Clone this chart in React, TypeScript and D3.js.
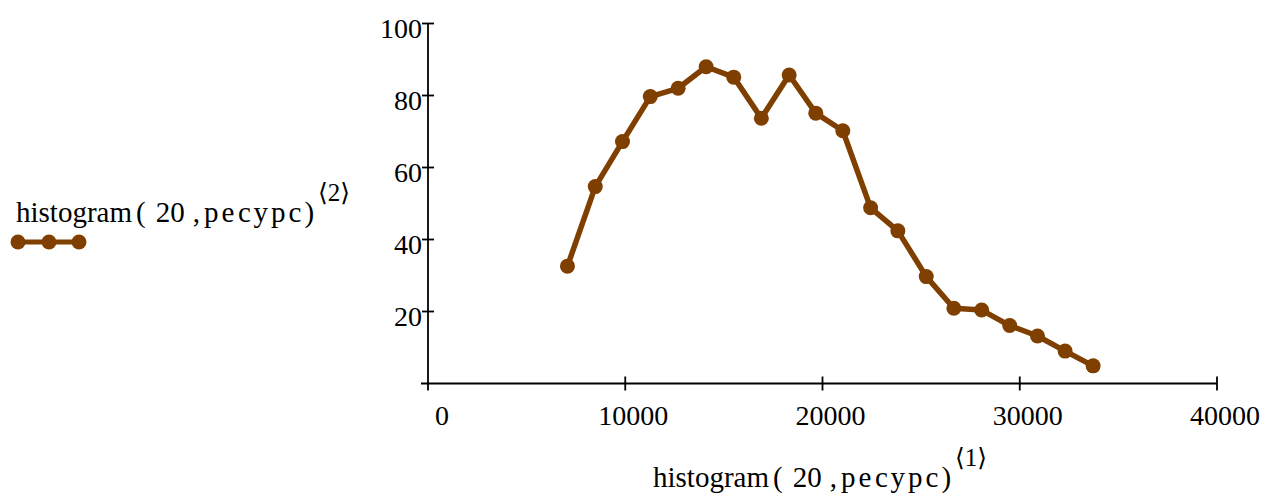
import React from 'react';
import * as d3 from 'd3';

// histogram(20, ресурс): bin centres and counts
const binCentres = [7070, 8480, 9860, 11270, 12680, 14100, 15500, 16900, 18310, 19660, 21030, 22440, 23820, 25260, 26660, 28070, 29490, 30900, 32300, 33720];
const counts = [32.6, 54.7, 67.2, 79.7, 82.0, 88.0, 85.1, 73.7, 85.7, 75.1, 70.2, 48.8, 42.4, 29.7, 20.9, 20.4, 16.1, 13.2, 9.0, 4.9];

const xTicks = [0, 10000, 20000, 30000, 40000];
const yTicks = [20, 40, 60, 80, 100];

const BROWN = '#7f3f00';
const FONT = 'Liberation Serif, Times New Roman, DejaVu Serif, serif';

const W = 1269;
const H = 497;

// Mathcad style label: histogram ( 20 , ресурс )^<n>
const MathLabel = ({ x, y, sup }: { x: number; y: number; sup: string }) => (
	<text x={x} y={y} style={{ fontFamily: FONT, fontSize: 29 }} fill="#000">
		<tspan>histogram</tspan>
		<tspan dx={4}>(</tspan>
		<tspan dx={10}>20</tspan>
		<tspan dx={8}>,</tspan>
		<tspan dx={4} style={{ letterSpacing: 3 }}>ресурс</tspan>
		<tspan>)</tspan>
		<tspan dx={4} dy={-21} style={{ fontSize: 25 }}>{'\u27E8' + sup + '\u27E9'}</tspan>
	</text>
);

export default function App() {
	const x = d3.scaleLinear().domain([0, 40000]).range([428, 1217]);
	const y = d3.scaleLinear().domain([0, 100]).range([383.5, 23.5]);

	const pts = binCentres.map((c, i) => [x(c), y(counts[i])] as [number, number]);
	const line = d3.line()(pts) || '';

	return (
		<svg width={W} height={H} style={{ position: 'absolute', left: 0, top: 0, background: '#fff' }}>
			{/* axes */}
			<g stroke="#000" strokeWidth={1.8}>
				<line x1={x(0)} x2={x(0)} y1={y(100)} y2={y(0) + 7} />
				<line x1={x(0) - 7} x2={x(40000)} y1={y(0)} y2={y(0)} />
				{yTicks.map((t) => (
					<line key={t} x1={x(0) - 6} x2={x(0) + 6} y1={y(t)} y2={y(t)} />
				))}
				{xTicks.slice(1).map((t) => (
					<line key={t} x1={x(t)} x2={x(t)} y1={y(0) - 7} y2={y(0) + 7} />
				))}
			</g>
			<g style={{ fontFamily: FONT, fontSize: 28 }} fill="#000">
				{yTicks.map((t) => (
					<text key={t} x={x(0) - 6} y={y(t) + 14.5} textAnchor="end">{t}</text>
				))}
				{xTicks.map((t) => (
					<text key={t} x={x(t) + (t === 0 ? 14 : 8)} y={425} textAnchor="middle">{t}</text>
				))}
			</g>

			{/* series */}
			<path d={line} fill="none" stroke={BROWN} strokeWidth={5.5} strokeLinejoin="round" />
			{pts.map((p, i) => (
				<circle key={i} cx={p[0]} cy={p[1]} r={7.5} fill={BROWN} />
			))}

			{/* legend */}
			<MathLabel x={16} y={222} sup="2" />
			<line x1={18} x2={79} y1={242} y2={242} stroke={BROWN} strokeWidth={5} />
			{[18, 49, 79].map((cx) => (
				<circle key={cx} cx={cx} cy={242} r={7.5} fill={BROWN} />
			))}

			{/* x axis title */}
			<MathLabel x={653} y={487} sup="1" />
		</svg>
	);
}
